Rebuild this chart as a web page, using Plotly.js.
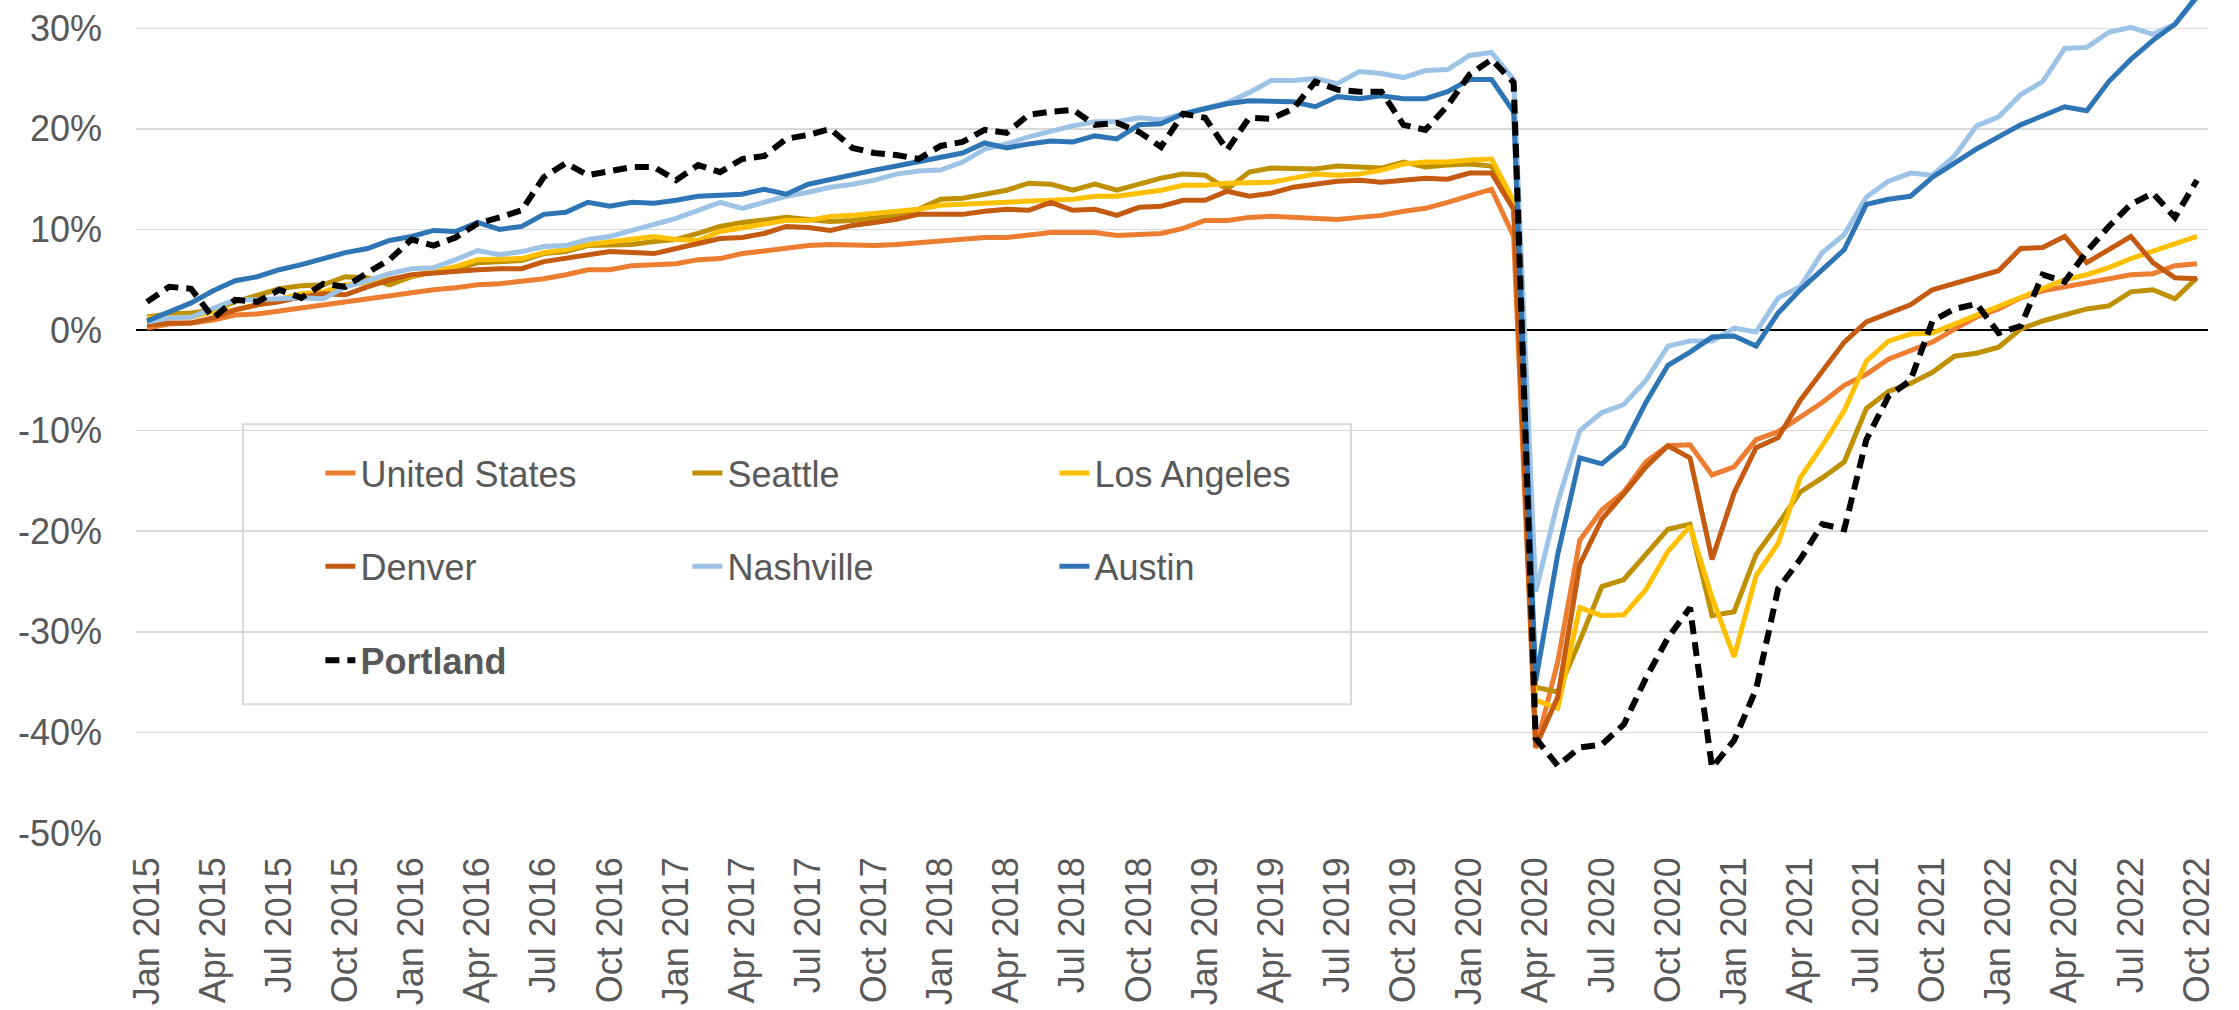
<!DOCTYPE html>
<html><head><meta charset="utf-8">
<script src="https://cdn.plot.ly/plotly-3.0.1.min.js"></script>
<style>html,body{margin:0;padding:0;background:#fff}#chart{width:2239px;height:1010px}</style>
</head><body><div id="chart"></div>
<script>
// Month categories Jan 2015 .. Oct 2022
const monthAbbr = ['Jan','Feb','Mar','Apr','May','Jun','Jul','Aug','Sep','Oct','Nov','Dec'];
const startYear = 2015;
const monthCount = 94;
const months = [];
for (let i = 0; i < monthCount; i++) months.push(monthAbbr[i % 12] + ' ' + (startYear + Math.floor(i / 12)));
const xTickLabels = months.filter((m, i) => i % 3 === 0);

// Values in percent
const unitedStates = [0.2,0.6,0.7,1.0,1.5,1.6,1.9,2.2,2.6,2.9,3.1,3.4,3.7,4.0,4.2,4.5,4.6,4.8,5.1,5.5,
  6.0,6.0,6.4,6.5,6.6,7.0,7.1,7.6,7.9,8.2,8.4,8.5,8.4,8.4,8.5,8.7,8.9,9.1,9.2,9.2,
  9.5,9.7,9.7,9.7,9.4,9.5,9.6,10.1,10.9,10.9,11.2,11.3,11.2,11.0,11.0,11.2,11.4,11.8,12.1,12.7,
  13.4,14.0,9.3,-41.6,-33.0,-20.9,-17.9,-16.1,-13.1,-11.5,-11.4,-14.4,-13.6,-10.9,-10.1,-8.6,-7.2,-5.5,-4.4,-2.9,
  -2.0,-1.2,0.1,1.3,2.1,3.2,3.9,4.3,4.7,5.0,5.5,5.6,6.4,6.6];
const seattle = [1.3,1.6,1.7,2.0,2.8,3.5,4.1,4.4,4.5,5.3,5.2,4.5,5.3,5.8,6.0,6.7,6.8,6.9,7.6,7.8,
  8.4,8.5,8.5,8.8,9.0,9.6,10.3,10.7,10.9,11.2,11.0,10.8,10.9,11.1,11.4,12.0,13.0,13.1,13.5,13.9,
  14.6,14.5,13.9,14.5,13.9,14.5,15.1,15.5,15.4,14.0,15.7,16.1,16.1,16.0,16.3,16.2,16.1,16.7,16.2,16.4,
  16.5,16.3,12.3,-35.5,-36.0,-30.9,-25.5,-24.8,-22.3,-19.8,-19.3,-28.4,-28.0,-22.3,-19.3,-16.1,-14.7,-13.1,-7.8,-6.1,
  -5.3,-4.2,-2.6,-2.3,-1.7,0.1,0.9,1.5,2.1,2.4,3.8,4.0,3.1,5.2];
const losAngeles = [1.2,1.2,1.3,1.8,2.0,2.5,3.1,3.6,3.8,4.5,4.7,5.0,5.4,5.8,6.3,7.0,7.1,7.1,7.7,8.0,
  8.5,8.8,9.1,9.3,9.0,8.9,9.8,10.2,10.5,10.9,10.9,11.3,11.4,11.6,11.8,12.0,12.4,12.5,12.5,12.6,
  12.7,12.8,13.0,13.3,13.3,13.6,13.9,14.4,14.4,14.6,14.7,14.7,15.1,15.5,15.4,15.5,15.9,16.5,16.7,16.7,
  16.9,17.0,12.8,-36.8,-37.6,-27.6,-28.4,-28.3,-25.8,-22.0,-19.5,-26.6,-32.5,-24.4,-21.2,-14.7,-11.5,-8.0,-3.1,-1.1,
  -0.4,-0.3,0.6,1.5,2.3,3.3,4.1,5.0,5.5,6.2,7.1,7.8,8.6,9.3];
const denver = [0.5,0.7,0.7,1.2,2.0,2.5,2.8,3.3,3.6,3.5,4.3,5.0,5.5,5.7,5.8,6.0,6.1,6.1,6.8,7.1,
  7.5,7.8,7.7,7.6,8.1,8.6,9.1,9.2,9.6,10.3,10.2,9.9,10.4,10.7,11.0,11.5,11.5,11.5,11.8,12.0,
  11.9,12.7,11.9,12.0,11.4,12.2,12.3,12.9,12.9,13.8,13.3,13.6,14.2,14.5,14.8,14.9,14.7,14.9,15.1,15.0,
  15.6,15.6,12.0,-41.4,-36.5,-23.3,-18.8,-16.3,-13.6,-11.5,-12.7,-22.8,-16.2,-11.7,-10.7,-7.0,-4.2,-1.2,0.8,1.6,
  2.5,4.0,4.6,5.3,5.9,8.1,8.2,9.3,6.7,8.0,9.3,6.7,5.2,5.1];
const nashville = [0.8,1.2,1.3,2.1,3.0,3.0,3.1,3.2,3.1,4.3,4.9,5.6,6.1,6.2,7.0,7.9,7.5,7.8,8.3,8.4,
  9.0,9.3,9.9,10.5,11.1,11.9,12.7,12.1,12.7,13.3,13.7,14.2,14.5,14.9,15.5,15.8,15.9,16.7,18.0,18.5,
  19.2,19.8,20.3,20.7,20.7,21.1,20.9,21.5,22.0,22.6,23.6,24.8,24.8,25.0,24.5,25.7,25.5,25.1,25.8,25.9,
  27.3,27.6,24.9,-26.0,-17.1,-10.0,-8.2,-7.4,-5.0,-1.6,-1.1,-1.1,0.2,-0.2,3.2,4.3,7.7,9.5,13.2,14.8,
  15.6,15.4,17.3,20.3,21.2,23.4,24.7,28.0,28.1,29.6,30.1,29.4,30.4,33.0];
const austin = [0.9,1.8,2.7,3.9,4.9,5.3,6.0,6.5,7.1,7.7,8.1,8.9,9.3,9.9,9.8,10.7,10.0,10.3,11.5,11.7,
  12.7,12.3,12.7,12.6,12.9,13.3,13.4,13.5,14.0,13.5,14.5,15.0,15.4,15.9,16.3,16.7,17.2,17.6,18.6,18.1,
  18.5,18.8,18.7,19.3,19.0,20.4,20.5,21.5,22.0,22.5,22.8,22.8,22.7,22.2,23.2,23.0,23.3,23.0,23.0,23.7,
  24.9,24.9,21.7,-34.9,-22.3,-12.7,-13.3,-11.5,-7.2,-3.5,-2.2,-0.7,-0.6,-1.6,1.7,4.0,6.0,8.0,12.5,13.0,
  13.3,15.2,16.6,18.0,19.2,20.4,21.3,22.2,21.8,24.7,26.9,28.8,30.4,33.2];
const portland = [2.8,4.3,4.1,1.2,3.0,2.8,4.0,3.2,4.6,4.3,5.7,7.0,9.0,8.4,9.2,10.6,11.2,11.9,15.2,16.6,
  15.4,15.8,16.2,16.2,14.9,16.4,15.7,17.0,17.3,19.0,19.4,20.0,18.1,17.6,17.4,17.0,18.3,18.7,19.9,19.6,
  21.4,21.7,21.9,20.4,20.6,19.7,18.2,21.5,21.1,17.9,21.1,21.0,22.0,24.7,23.9,23.7,23.7,20.4,19.9,22.3,
  25.4,26.9,24.6,-40.6,-43.3,-41.5,-41.2,-39.2,-34.6,-30.6,-27.6,-43.5,-40.8,-35.7,-25.7,-22.8,-19.3,-19.8,-10.9,-6.6,
  -5.0,0.9,2.1,2.6,-0.3,0.4,5.5,4.8,7.8,10.3,12.5,13.6,11.2,14.9];

const yTickVals = [-50,-40,-30,-20,-10,0,10,20,30];
const yTickText = ['-50%','-40%','-30%','-20%','-10%','0%','10%','20%','30%'];

const FONT = 'Liberation Sans, Arial, sans-serif';
const GREY = '#595959';

const series = [
  {name:'United States', y:unitedStates, color:'#ED7D31', legend:'legend'},
  {name:'Seattle', y:seattle, color:'#BF9000', legend:'legend'},
  {name:'Los Angeles', y:losAngeles, color:'#FFC000', legend:'legend'},
  {name:'Denver', y:denver, color:'#C55A11', legend:'legend2'},
  {name:'Nashville', y:nashville, color:'#9DC3E6', legend:'legend2'},
  {name:'Austin', y:austin, color:'#2E75B6', legend:'legend2'},
];
const traces = series.map(s => ({
  type:'scatter', mode:'lines', x:months, y:s.y, name:s.name, legend:s.legend,
  line:{color:s.color, width:5}, hoverinfo:'skip'
}));
traces.push({type:'scatter', mode:'lines', x:months, y:portland, name:'<b>Portland</b>', legend:'legend3',
  line:{color:'#000000', width:6, dash:'14px,8px'}, hoverinfo:'skip'});

const legendBase = {orientation:'h', xanchor:'left', yanchor:'middle', bgcolor:'rgba(0,0,0,0)',
  borderwidth:0, font:{family:FONT, size:36, color:GREY}, entrywidth:322, entrywidthmode:'pixels',
  traceorder:'normal'};

const layout = {
  width:2239, height:1010,
  margin:{l:136, r:31, t:0, b:177, pad:0},
  paper_bgcolor:'#ffffff', plot_bgcolor:'#ffffff',
  font:{family:FONT, size:36, color:GREY},
  showlegend:true,
  xaxis:{type:'category', tickmode:'array', tickvals:xTickLabels, ticktext:xTickLabels,
    tickangle:-90, showgrid:false, zeroline:false, showline:false, ticks:'',
    ticklabelstandoff:16, tickfont:{family:FONT, size:36, color:GREY}, range:[-0.5, 93.5]},
  yaxis:{range:[-50, 32.81], tickmode:'array', tickvals:yTickVals, ticktext:yTickText,
    showgrid:true, gridcolor:'#d9d9d9', gridwidth:1.5, zeroline:true, zerolinecolor:'#000000',
    zerolinewidth:2, showline:false, ticks:'', ticklabelstandoff:33,
    tickfont:{family:FONT, size:36, color:GREY}},
  legend:Object.assign({}, legendBase, {x:0.089, y:0.432}),
  legend2:Object.assign({}, legendBase, {x:0.089, y:0.320}),
  legend3:Object.assign({}, legendBase, {x:0.089, y:0.2074}),
  shapes:[{type:'rect', xref:'paper', yref:'paper', x0:0.0516, x1:0.5864, y0:0.1546, y1:0.4908,
    line:{color:'#d9d9d9', width:2}, fillcolor:'#ffffff', layer:'between'}]
};

Plotly.newPlot('chart', traces, layout, {staticPlot:true, displayModeBar:false});
</script>
</body></html>
